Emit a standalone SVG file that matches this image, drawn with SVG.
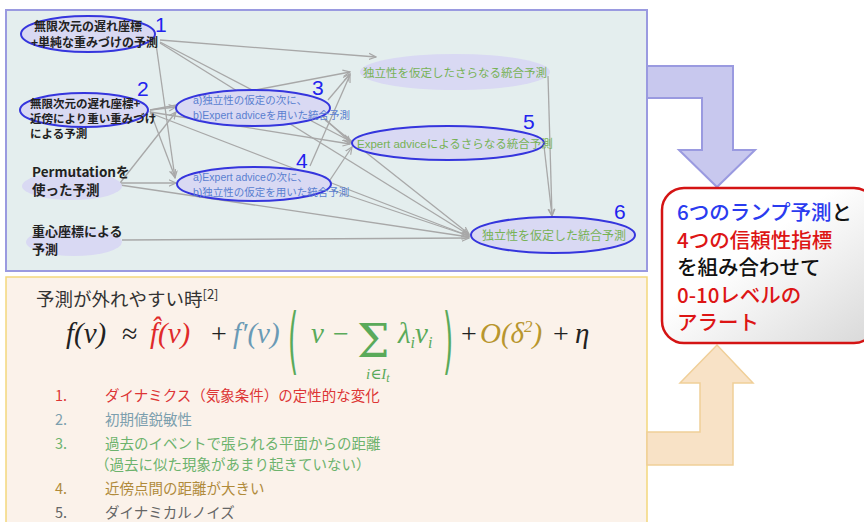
<svg xmlns="http://www.w3.org/2000/svg" width="864" height="522" viewBox="0 0 864 522">
<defs>
<marker id="ah" viewBox="0 0 10 10" refX="9" refY="5" markerWidth="8" markerHeight="8" orient="auto" markerUnits="userSpaceOnUse">
<path d="M0,1 L9,5 L0,9" fill="none" stroke="#a8a8a8" stroke-width="1.5"/>
</marker>
<linearGradient id="gbox" x1="0" y1="0" x2="1" y2="1">
<stop offset="0.4" stop-color="#ffffff"/>
<stop offset="1" stop-color="#d8d8d8"/>
</linearGradient>
<style>
.nd{font-family:"Noto Sans CJK JP","Liberation Sans",sans-serif;font-weight:bold;fill:#222}
.bl{font-family:"Liberation Sans","Noto Sans CJK JP",sans-serif;fill:#5a7fd0;font-size:10.5px}
.gr{font-family:"Liberation Sans","Noto Sans CJK JP",sans-serif;fill:#77b255}
.num{font-family:"Liberation Sans",sans-serif;fill:#2222ee;font-size:21px}
.ell{fill:#d9d9f3;stroke:#3535dd;stroke-width:2}
.ell0{fill:#d9d9f3}
.cn line{stroke:#a8a8a8;stroke-width:1.3;marker-end:url(#ah)}
.fm{font-family:"Liberation Serif","DejaVu Serif",serif}
.li{font-family:"Noto Sans CJK JP","Liberation Sans",sans-serif;font-size:14.5px}
.al{font-family:"Noto Sans CJK JP","Liberation Sans",sans-serif;font-size:20.5px;font-weight:500}
</style>
</defs>
<rect width="864" height="522" fill="#ffffff"/>

<!-- top panel -->
<rect x="6" y="10" width="641" height="261" fill="#e4eeee" stroke="#9a9ae0" stroke-width="2"/>
<!-- bottom panel -->
<rect x="6" y="277" width="641" height="250" fill="#fbf2ea" stroke="#f3d77c" stroke-width="1.5"/>

<!-- blue arrow -->
<path id="arrowBlue" d="M647,66 L733,66 L733,150 L755,150 L717,187 L679,150 L702,150 L702,98 L647,98 Z" fill="#c8c8ee" stroke="#9a9ae0" stroke-width="2"/>
<!-- orange arrow -->
<path id="arrowOrange" d="M647,432 L700,432 L700,383 L680,383 L717,345 L753,383 L733,383 L733,465 L647,465 Z" fill="#f8e2c6" stroke="#f0cf98" stroke-width="1.5"/>

<!-- connectors -->
<g id="connectors" class="cn">
<line x1="160" y1="40" x2="376" y2="57"/>
<line x1="160" y1="42" x2="350" y2="141"/>
<line x1="160" y1="43" x2="469" y2="235"/>
<line x1="156" y1="44" x2="175" y2="178"/>
<line x1="150" y1="110" x2="176" y2="107"/>
<line x1="150" y1="111" x2="175" y2="177"/>
<line x1="150" y1="110" x2="350" y2="72"/>
<line x1="150" y1="112" x2="350" y2="144"/>
<line x1="150" y1="113" x2="469" y2="236"/>
<line x1="120" y1="183" x2="176" y2="112"/>
<line x1="120" y1="183" x2="176" y2="183"/>
<line x1="120" y1="185" x2="469" y2="237"/>
<line x1="122" y1="240" x2="469" y2="238"/>
<line x1="328" y1="100" x2="350" y2="74"/>
<line x1="322" y1="116" x2="351" y2="143"/>
<line x1="325" y1="120" x2="469" y2="234"/>
<line x1="310" y1="166" x2="350" y2="75"/>
<line x1="330" y1="180" x2="352" y2="147"/>
<line x1="332" y1="190" x2="469" y2="236"/>
<line x1="548" y1="76" x2="552" y2="216"/>
<line x1="544" y1="146" x2="552" y2="216"/>
</g>

<!-- node 1 -->
<g id="n1">
<ellipse class="ell" cx="88" cy="34" rx="67" ry="18"/>
<text class="nd" x="34" y="31" font-size="12">無限次元の遅れ座標</text>
<text class="nd" x="31" y="47" font-size="12">+単純な重みづけの予測</text>
<text class="num" x="155" y="32">1</text>
</g>
<!-- node 2 -->
<g id="n2">
<ellipse class="ell" cx="84" cy="110" rx="64" ry="17"/>
<text class="nd" x="30" y="108" font-size="11.5">無限次元の遅れ座標+</text>
<text class="nd" x="30" y="123" font-size="11.5">近傍により重い重みづけ</text>
<text class="nd" x="30" y="138" font-size="11.5">による予測</text>
<text class="num" x="137" y="96">2</text>
</g>
<!-- permutation -->
<g id="nP">
<ellipse class="ell0" cx="72" cy="186" rx="50" ry="14"/>
<text class="nd" x="32" y="177" font-size="13.5">Permutationを</text>
<text class="nd" x="32" y="195" font-size="13.5">使った予測</text>
</g>
<!-- barycentric -->
<g id="nG">
<ellipse class="ell0" cx="74" cy="242" rx="48" ry="14"/>
<text class="nd" x="32" y="236" font-size="13">重心座標による</text>
<text class="nd" x="32" y="254" font-size="13">予測</text>
</g>
<!-- node 3 -->
<g id="n3">
<ellipse class="ell" cx="253" cy="108" rx="77" ry="18"/>
<text class="bl" x="193" y="104">a)独立性の仮定の次に、</text>
<text class="bl" x="193" y="119">b)Expert adviceを用いた統合予測</text>
<text class="num" x="312" y="95">3</text>
</g>
<!-- node 4 -->
<g id="n4">
<ellipse class="ell" cx="254" cy="184" rx="77" ry="17"/>
<text class="bl" x="193" y="181">a)Expert adviceの次に、</text>
<text class="bl" x="193" y="196">b)独立性の仮定を用いた統合予測</text>
<text class="num" x="296" y="168">4</text>
</g>
<!-- top node -->
<g id="nT">
<ellipse class="ell0" cx="455" cy="72" rx="95" ry="18"/>
<text class="gr" x="363" y="77" font-size="11.5">独立性を仮定したさらなる統合予測</text>
</g>
<!-- node 5 -->
<g id="n5">
<ellipse class="ell" cx="448" cy="143" rx="96" ry="17"/>
<text class="gr" x="357" y="148" font-size="11.5">Expert adviceによるさらなる統合予測</text>
<text class="num" x="523" y="129">5</text>
</g>
<!-- node 6 -->
<g id="n6">
<ellipse class="ell" cx="553" cy="235" rx="82" ry="18"/>
<text class="gr" x="482" y="240" font-size="12">独立性を仮定した統合予測</text>
<text class="num" x="614" y="219">6</text>
</g>

<!-- alarm box -->
<g id="alarm">
<rect x="662" y="188" width="214" height="155" rx="22" fill="url(#gbox)" stroke="#d41414" stroke-width="2.5"/>
<text class="al" x="677" y="220"><tspan fill="#2a3bef">6つのランプ予測</tspan><tspan fill="#111">と</tspan></text>
<text class="al" x="677" y="248" fill="#dd1515">4つの信頼性指標</text>
<text class="al" x="677" y="275" fill="#111">を組み合わせて</text>
<text class="al" x="677" y="303" fill="#dd1515">0-10レベルの</text>
<text class="al" x="677" y="330" fill="#dd1515">アラート</text>
</g>

<!-- bottom panel content -->
<g id="bottom">
<text x="36" y="306" font-family="Noto Sans CJK JP, Liberation Sans, sans-serif" font-size="18.5" fill="#333">予測が外れやすい時<tspan font-size="13" dy="-7">[2]</tspan></text>

<text class="fm" x="66" y="343" font-size="29" font-style="italic" fill="#222">f(v)</text>
<text class="fm" x="122" y="343" font-size="28" fill="#222">≈</text>
<text class="fm" x="150" y="343" font-size="29" font-style="italic" fill="#e02a2a">f̂(v)</text>
<text class="fm" x="211" y="343" font-size="28" fill="#222">+</text>
<text class="fm" x="233" y="343" font-size="29" font-style="italic" fill="#6a9ab5">f′(v)</text>
<text fill="#5aaa5a" font-family="DejaVu Sans, sans-serif" font-size="26" transform="translate(288,366) scale(1,2.8)">(</text>
<text class="fm" x="311" y="343" font-size="29" font-style="italic" fill="#5aaa5a">v</text>
<text class="fm" x="333" y="343" font-size="28" fill="#5aaa5a">−</text>
<text x="357" y="357" font-size="46" font-family="DejaVu Serif, serif" fill="#5aaa5a">Σ</text>
<text class="fm" x="366" y="379" font-size="15" font-style="italic" fill="#5aaa5a">i∈I<tspan font-size="12" dy="3">t</tspan></text>
<text class="fm" x="398" y="343" font-size="29" font-style="italic" fill="#5aaa5a">λ<tspan font-size="16" dy="5">i</tspan><tspan dy="-5">v</tspan><tspan font-size="16" dy="5">i</tspan></text>
<text fill="#5aaa5a" font-family="DejaVu Sans, sans-serif" font-size="26" transform="translate(443,366) scale(1,2.8)">)</text>
<text class="fm" x="461" y="343" font-size="28" fill="#222">+</text>
<text class="fm" x="480" y="343" font-size="29" font-style="italic" fill="#b8962e">O(δ<tspan font-size="17" dy="-11">2</tspan><tspan dy="11">)</tspan></text>
<text class="fm" x="553" y="343" font-size="28" fill="#222">+</text>
<text class="fm" x="575" y="343" font-size="29" font-style="italic" fill="#222">η</text>

<g class="li">
<text x="55" y="401" fill="#dd3535">1.</text><text x="105" y="401" fill="#dd3535">ダイナミクス（気象条件）の定性的な変化</text>
<text x="55" y="425" fill="#7c9fae">2.</text><text x="105" y="425" fill="#7c9fae">初期値鋭敏性</text>
<text x="55" y="449" fill="#6db36d">3.</text><text x="105" y="449" fill="#6db36d">過去のイベントで張られる平面からの距離</text>
<text x="95" y="470" fill="#6db36d">（過去に似た現象があまり起きていない）</text>
<text x="55" y="494" fill="#b08a3a">4.</text><text x="105" y="494" fill="#b08a3a">近傍点間の距離が大きい</text>
<text x="55" y="518" fill="#666">5.</text><text x="105" y="518" fill="#666">ダイナミカルノイズ</text>
</g>
</g>
</svg>
